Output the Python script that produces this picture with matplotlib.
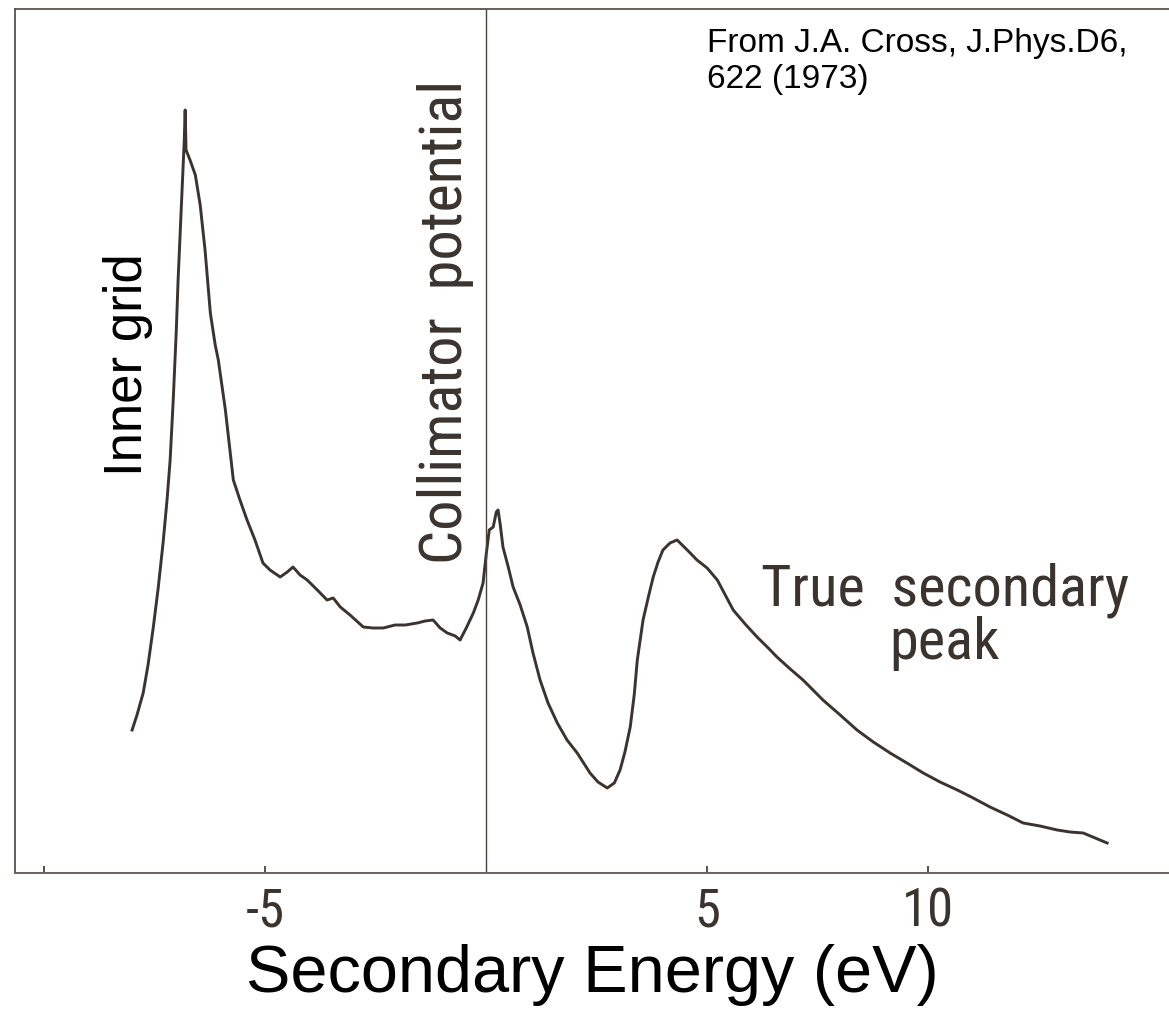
import matplotlib
matplotlib.use("Agg")
import matplotlib.pyplot as plt

# ---- data (arbitrary intensity units) ----
energy_ev = [-8.01, -7.90, -7.76, -7.65, -7.53, -7.42, -7.31, -7.22, -7.15, -7.08,
             -7.01, -6.97, -6.92, -6.88, -6.83, -6.81, -6.79, -6.70, -6.58, -6.47,
             -6.36, -6.24, -6.13, -6.06, -5.90, -5.72, -5.57, -5.41, -5.23, -5.05,
             -4.89, -4.66, -4.50, -4.37, -4.21, -4.05, -3.82, -3.60, -3.46, -3.30,
             -3.08, -2.78, -2.56, -2.33, -2.06, -1.83, -1.56, -1.38, -1.20, -1.04,
             -0.88, -0.70, -0.59, -0.45, -0.29, -0.18, -0.07, 0.00, 0.07, 0.16,
             0.23, 0.27, 0.32, 0.38, 0.50, 0.61, 0.77, 0.93, 1.06, 1.22,
             1.40, 1.61, 1.83, 2.06, 2.35, 2.53, 2.74, 2.90, 3.03, 3.14,
             3.26, 3.35, 3.42, 3.55, 3.67, 3.78, 3.89, 4.00, 4.16, 4.32,
             4.55, 4.77, 5.00, 5.23, 5.41, 5.59, 5.86, 6.13, 6.36, 6.58,
             6.88, 7.17, 7.62, 8.01, 8.39, 8.76, 9.14, 9.52, 9.89, 10.27,
             10.66, 11.02, 11.40, 11.79, 12.15, 12.53, 12.92, 13.21, 13.51, 13.78,
             14.05]
intensity = [14.3, 15.8, 18.0, 20.8, 24.6, 28.5, 33.0, 37.3, 41.3, 47.3,
             54.3, 59.3, 64.3, 68.3, 73.3, 76.3, 72.3, 71.3, 69.8, 66.8,
             62.3, 56.0, 52.8, 51.3, 46.3, 39.3, 37.3, 35.3, 33.3, 31.0,
             30.3, 29.6, 30.1, 30.6, 29.8, 29.3, 28.3, 27.3, 27.5, 26.6,
             25.8, 24.6, 24.5, 24.5, 24.8, 24.8, 25.0, 25.2, 25.3, 24.5,
             24.0, 23.7, 23.3, 24.5, 26.0, 27.3, 29.0, 31.8, 34.3, 34.6,
             36.1, 36.3, 34.8, 32.6, 30.6, 28.6, 26.8, 24.6, 22.0, 19.3,
             17.0, 15.0, 13.3, 12.0, 10.0, 9.1, 8.5, 9.0, 10.3, 12.1,
             14.6, 17.8, 21.3, 25.3, 27.6, 29.6, 31.1, 32.3, 33.0, 33.3,
             32.3, 31.3, 30.5, 29.3, 27.8, 26.3, 24.9, 23.6, 22.6, 21.6,
             20.4, 19.3, 17.3, 15.8, 14.3, 13.1, 12.0, 11.0, 10.0, 9.1,
             8.3, 7.5, 6.6, 5.8, 5.0, 4.7, 4.3, 4.1, 4.0, 3.5,
             3.0]
tick_values = [-10, -5, 5, 10]
tick_labels = ["", "-5", "5", "10"]

INK = "#3b332d"
NARROW = ["Liberation Sans Narrow", "DejaVu Sans Condensed", "Roboto Condensed",
          "DejaVu Sans"]
ARIAL = ["Liberation Sans", "DejaVu Sans"]

W, H = 1169, 1022
fig = plt.figure(figsize=(W / 100, H / 100), dpi=100)
fig.patch.set_facecolor("white")
left_px, right_px, top_px, bottom_px = 15, 1169, 9, 873
ax = fig.add_axes([left_px / W, 1 - bottom_px / H,
                   (right_px - left_px) / W, (bottom_px - top_px) / H])
ax.set_xlim(-10.66, 15.45)
ax.set_ylim(0, 86.4)

ax.plot(energy_ev, intensity, color=INK, lw=2.1, solid_joinstyle="round")
ax.axvline(0, color="#4a423c", lw=1.0)

for s in ["left", "top"]:
    ax.spines[s].set_color("#5a524c")
    ax.spines[s].set_linewidth(1.3)
ax.spines["bottom"].set_color("#6a625c")
ax.spines["bottom"].set_linewidth(1.4)
ax.spines["right"].set_visible(False)

ax.set_yticks([])
ax.set_xticks(tick_values)
ax.set_xticklabels(tick_labels, family=NARROW, fontstretch="condensed",
                   fontsize=38, color=INK)
ax.tick_params(axis="x", direction="in", length=5, width=1.2, color=INK, pad=10)

ax.text(-0.93, 55.1, "Collimator  potential", rotation=90, ha="center", va="center",
        family=NARROW, fontstretch="condensed", fontsize=43.5, color=INK)
ax.text(10.38, 25.6, "True  secondary\npeak", ha="center", va="center",
        multialignment="center", linespacing=0.95,
        family=NARROW, fontstretch="condensed", fontsize=42, color=INK)

fig.text(128 / W, 1 - 365 / H, "Inner grid", rotation=90, ha="center", va="center",
         family=ARIAL, fontsize=38, color="black")
fig.text(592 / W, 1 - 975 / H, "Secondary Energy (eV)", ha="center", va="center",
         family=ARIAL, fontsize=48, color="black")
fig.text(707 / W, 1 - 28 / H, "From J.A. Cross, J.Phys.D6,\n622 (1973)",
         ha="left", va="top", family=ARIAL, fontsize=24, color="black",
         linespacing=1.2)

fig.savefig("out.png", dpi=100, facecolor="white")
